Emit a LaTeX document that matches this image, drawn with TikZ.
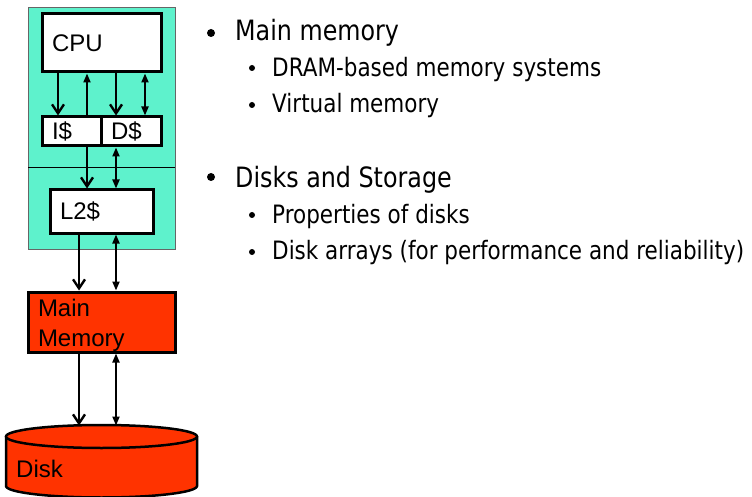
\documentclass[tikz,border=0pt]{standalone}
\usepackage{fontspec}
\setmainfont{Liberation Sans}
\newfontfamily\slidefont[FakeStretch=0.85]{DejaVu Sans}
\usetikzlibrary{arrows.meta}

\definecolor{cachegreen}{RGB}{94,242,204}
\definecolor{memred}{RGB}{255,51,0}

\tikzset{
  unit/.style={draw, line width=3pt, fill=white, inner xsep=10pt, inner ysep=0pt,
    text width=#1, align=left, font=\fontsize{24}{30}\selectfont},
  flow/.style={line width=2.4pt, -{Straight Barb[length=9pt,width=12pt,line width=2.4pt]}},
  back/.style={line width=2pt, -{Triangle[length=9pt,width=7pt]}},
  both/.style={line width=2pt, {Triangle[length=9pt,width=7pt]}-{Triangle[length=9pt,width=7pt]}},
  item/.style={anchor=base west, inner sep=0pt, font=\slidefont\fontsize{28}{34}\selectfont},
  subitem/.style={anchor=base west, inner sep=0pt, font=\slidefont\fontsize{25.3}{30}\selectfont},
}

\begin{document}
\begin{tikzpicture}[x=1pt,y=-1pt]
  \useasboundingbox (0,0) rectangle (752,497);

  % Processor chip
  \filldraw[fill=cachegreen, draw=black!60, line width=0.8pt] (28,7) rectangle (175,249);
  \draw[line width=1pt] (28,168) -- (175,168);

  \node[unit=99, minimum height=58] (cpu) at (101.5,43) {CPU};
  \node[unit=39, minimum height=29] (icache) at (71.5,131.5) {I\$};
  \node[unit=40, minimum height=29] (dcache) at (131,131.5) {D\$};
  \node[unit=83, minimum height=43] (l2) at (101.5,211.5) {L2\$};

  % Main memory
  \node[unit=127, minimum height=60, fill=memred] (mem) at (101.5,322) {\rule{0pt}{24pt}Main\\Memory};

  % Disk (cylinder)
  \fill[memred] (6,436.5) -- (6,486) arc[start angle=180, end angle=0, x radius=95.5, y radius=11.5]
    -- (197,436.5) -- cycle;
  \draw[line width=2.5pt] (6,436.5) -- (6,486) arc[start angle=180, end angle=0, x radius=95.5, y radius=11.5]
    -- (197,436.5);
  \filldraw[fill=memred, line width=2.5pt] (101.5,436.5) ellipse[x radius=95.5, y radius=11.5];
  \node[anchor=base west, inner sep=0pt, font=\fontsize{24}{30}\selectfont] (disk label) at (16,477) {Disk};
  \coordinate (disk) at (101.5,425.5);

  % Columns of the connectors
  \coordinate (colA) at (58,0);
  \coordinate (colB) at (87,0);
  \coordinate (colC) at (116,0);
  \coordinate (colD) at (145,0);
  \coordinate (colE) at (79,0);

  \draw[flow] (cpu.south -| colA) -- (icache.north -| colA);
  \draw[back] (icache.north -| colB) -- (cpu.south -| colB);
  \draw[flow] (cpu.south -| colC) -- (dcache.north -| colC);
  \draw[both] (cpu.south -| colD) -- (dcache.north -| colD);

  \draw[flow] (icache.south -| colB) -- (l2.north -| colB);
  \draw[both] (dcache.south -| colC) -- (l2.north -| colC);

  \draw[flow] (l2.south -| colE) -- (mem.north -| colE);
  \draw[both] (l2.south -| colC) -- (mem.north -| colC);

  \draw[flow] (mem.south -| colE) -- (disk -| colE);
  \draw[both] (mem.south -| colC) -- (disk -| colC);

  % Bullet list
  \fill (211,33) circle (4);
  \fill (211,177) circle (4);
  \foreach \y in {68,105,215,252}
    \fill (252,\y) circle (3);

  \node[item] (topic1) at (235,41) {Main memory};
  \node[subitem] (topic1a) at (272,77) {DRAM-based memory systems};
  \node[subitem] (topic1b) at (272,113) {Virtual memory};
  \node[item] (topic2) at (235,188) {Disks and Storage};
  \node[subitem] (topic2a) at (272,223) {Properties of disks};
  \node[subitem] (topic2b) at (272,259) {Disk arrays (for performance and reliability)};
\end{tikzpicture}
\end{document}
